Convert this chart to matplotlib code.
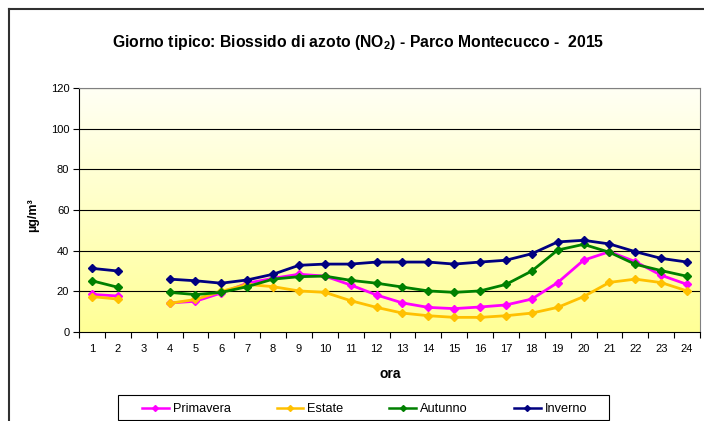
import numpy as np
import matplotlib
matplotlib.use("Agg")
import matplotlib.pyplot as plt
from matplotlib.lines import Line2D
from matplotlib.patches import Rectangle

plt.rcParams['font.family'] = ['Liberation Sans', 'DejaVu Sans']
plt.rcParams['mathtext.fontset'] = 'custom'
plt.rcParams['mathtext.rm'] = 'Liberation Sans:bold'
plt.rcParams['mathtext.default'] = 'rm'

hours = list(range(1, 25))
nan = np.nan
primavera = [18.5, 17.7, nan, 14.3, 15.1, 19.2, 24.0, 26.4, 28.4, 27.5, 23.1, 18.2,
             14.3, 12.1, 11.5, 12.3, 13.3, 16.2, 24.3, 35.3, 39.5, 34.6, 27.9, 23.4]
estate = [17.4, 16.2, nan, 14.1, 16.0, 20.0, 23.4, 22.3, 20.2, 19.5, 15.4, 12.1,
          9.3, 8.0, 7.2, 7.2, 8.0, 9.3, 12.1, 17.4, 24.4, 26.0, 24.3, 20.2]
autunno = [25.2, 22.0, nan, 19.5, 18.4, 19.5, 22.3, 26.0, 27.2, 27.5, 25.4, 24.0,
           22.1, 20.2, 19.5, 20.2, 23.4, 30.0, 40.3, 43.1, 39.2, 33.3, 30.2, 27.4]
inverno = [31.3, 30.0, nan, 26.0, 25.2, 24.0, 25.6, 28.4, 32.8, 33.4, 33.4, 34.4,
           34.4, 34.4, 33.4, 34.4, 35.3, 38.5, 44.3, 45.1, 43.3, 39.5, 36.2, 34.4]

series = [("Primavera", primavera, "#FF00FF"),
          ("Estate", estate, "#FFC000"),
          ("Autunno", autunno, "#008000"),
          ("Inverno", inverno, "#000080")]

W, H = 704, 421
fig = plt.figure(figsize=(W / 100, H / 100), dpi=100)
fig.patch.set_facecolor('white')

# outer chart border (left and top visible)
fig.add_artist(Line2D([9 / W, 9 / W], [0, 1 - 9 / H], transform=fig.transFigure,
                      color='#303030', lw=1.5))
fig.add_artist(Line2D([9 / W, 1], [1 - 9 / H, 1 - 9 / H], transform=fig.transFigure,
                      color='#303030', lw=1.5))

left, right, top, bottom = 79, 700, 88, 332
ax = fig.add_axes([left / W, 1 - bottom / H, (right - left) / W, (bottom - top) / H])

# gradient background
grad = np.linspace(0, 1, 256).reshape(-1, 1)
c_bot = np.array([255, 255, 150]) / 255
c_top = np.array([255, 255, 245]) / 255
img = c_bot[None, None, :] * (1 - grad[:, :, None]) + c_top[None, None, :] * grad[:, :, None]
ax.imshow(img, extent=[0.5, 24.5, 0, 120], origin='lower', aspect='auto', zorder=0)

for y in range(20, 121, 20):
    ax.axhline(y, color='black', lw=0.8, zorder=1)

for name, vals, col in series:
    ax.plot(hours, vals, color=col, lw=2.0, marker='D', markersize=4.5,
            markeredgecolor=col, markerfacecolor=col, label=name, zorder=3)

ax.set_xlim(0.5, 24.5)
ax.set_ylim(0, 120)
ax.set_yticks(range(0, 121, 20))
ax.set_xticks(hours)
ax.set_xticks(np.arange(0.5, 24.6, 1), minor=True)
ax.tick_params(axis='x', which='major', length=0, pad=9, labelsize=8)
ax.tick_params(axis='x', which='minor', length=4, width=0.8, direction='out')
ax.tick_params(axis='y', which='major', length=4, width=0.8, direction='out', labelsize=8, pad=3)

for s in ['left', 'bottom']:
    ax.spines[s].set_color('black')
    ax.spines[s].set_linewidth(0.8)
for s in ['top', 'right']:
    ax.spines[s].set_color('#808080')
    ax.spines[s].set_linewidth(0.8)

fig.text(390 / W, 1 - 374 / H, 'ora', fontsize=10, fontweight='bold',
         ha='center', va='center')
fig.text(33 / W, 1 - 215 / H, 'µg/m³', rotation=90, fontsize=9, fontweight='bold',
         ha='center', va='center')

fig.text(358 / W, 1 - 42 / H, 'Giorno tipico: Biossido di azoto (NO$_2$) - Parco Montecucco -  2015',
         fontsize=11.3, fontweight='bold', ha='center', va='center')

# legend frame
fig.add_artist(Rectangle((118 / W, 1 - 420 / H), (609 - 118) / W, (420 - 395) / H,
                         transform=fig.transFigure, facecolor='white', edgecolor='black',
                         lw=0.8, zorder=2))
handles = [Line2D([], [], color=c, lw=1.8, marker='D', markersize=3, markeredgecolor=c,
                  markerfacecolor=c) for _, _, c in series]
leg = fig.legend(handles, [s[0] for s in series], loc='center left',
                 bbox_to_anchor=(142 / W, 1 - 409 / H),
                 ncol=4, fontsize=9.2, frameon=False,
                 handlelength=2.1, handletextpad=0.3,
                 borderaxespad=0, borderpad=0, columnspacing=3.6)
leg.set_zorder(3)

fig.savefig('out.png', dpi=100, facecolor='white')
